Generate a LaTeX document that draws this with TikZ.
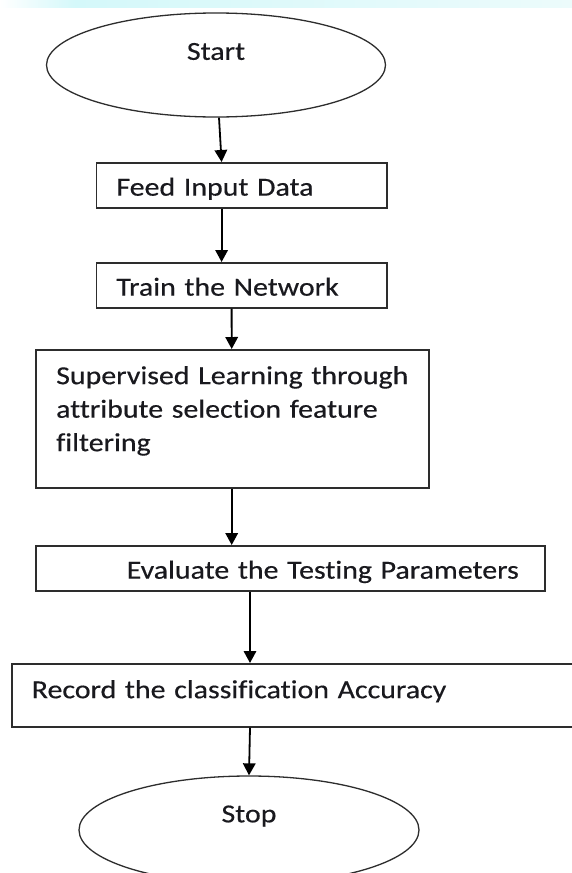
\documentclass[tikz,border=0pt]{standalone}
\usepackage{fontspec}
\setmainfont{Carlito}[FakeStretch=1.15,WordSpace=0.55,Ligatures=NoCommon,FakeBold=0.4]
\usetikzlibrary{shapes.geometric,arrows.meta}
\definecolor{bandcyan}{RGB}{212,248,250}
\definecolor{bandlight}{RGB}{236,251,251}
\definecolor{edge}{RGB}{45,45,45}
\definecolor{ink}{RGB}{25,25,30}
\begin{document}
\begin{tikzpicture}[x=1pt,y=-1pt,
  box/.style={draw=edge,line width=1.6pt,rectangle,align=left,text=ink,
    font=\fontsize{26}{33.5}\selectfont,inner xsep=20pt,inner ysep=0pt,anchor=north west},
  term/.style={draw=edge,line width=1.3pt,ellipse,text=ink,font=\fontsize{26}{33.5}\selectfont,inner sep=0pt},
  arr/.style={draw=black,line width=1.8pt,-{Triangle[length=12pt,width=12.5pt]}}]
\useasboundingbox (0,0) rectangle (572,873);
\fill[white] (0,0) rectangle (572,873);
% faint band at the top
\shade[left color=white,right color=bandcyan] (0,0) rectangle (75,7);
\shade[left color=bandcyan,right color=bandlight] (75,0) rectangle (572,7);

\node[term,minimum width=339pt,minimum height=104pt] (start) at (216,65)
  {Start\rule[-28.3pt]{0pt}{46.3pt}};
\node[box,text width=250.4pt,minimum height=45pt] (feed) at (95.6,162)
  {Feed Input Data\rule[-5.3pt]{0pt}{31.3pt}};
\node[box,text width=250.4pt,minimum height=45pt] (train) at (95.6,262)
  {Train the Network\rule[-5.3pt]{0pt}{31.3pt}};
\node[box,text width=352.6pt,minimum height=138pt] (sup) at (35.4,349)
  {Supervised Learning through\\attribute selection feature\\filtering\rule[-20.3pt]{0pt}{0pt}};
\node[box,text width=468.9pt,minimum height=45pt] (eval) at (35.4,545)
  {\hspace*{70.6pt}Evaluate the Testing Parameters\rule[-5.3pt]{0pt}{31.3pt}};
\node[box,text width=600pt,minimum height=63pt] (rec) at (11,663)
  {Record the classification Accuracy\rule[-12.3pt]{0pt}{30.3pt}};
\node[term,minimum width=340pt,minimum height=108pt] (stop) at (249,830)
  {Stop\rule[-33.3pt]{0pt}{51.3pt}};

\draw[arr] ([xshift=3pt]start.south) -- ([xshift=126pt]feed.north west);
\draw[arr] ([xshift=126pt]feed.south west) -- ([xshift=126pt]train.north west);
\draw[arr] ([xshift=136pt]train.south west) -- ([xshift=196.3pt]sup.north west);
\draw[arr] ([xshift=196.3pt]sup.south west) -- ([xshift=196.3pt]eval.north west);
\draw[arr] ([xshift=214.6pt]eval.south west) -- ([xshift=239pt]rec.north west);
\draw[arr] ([xshift=239pt]rec.south west) -- (stop.north);
\end{tikzpicture}
\end{document}
